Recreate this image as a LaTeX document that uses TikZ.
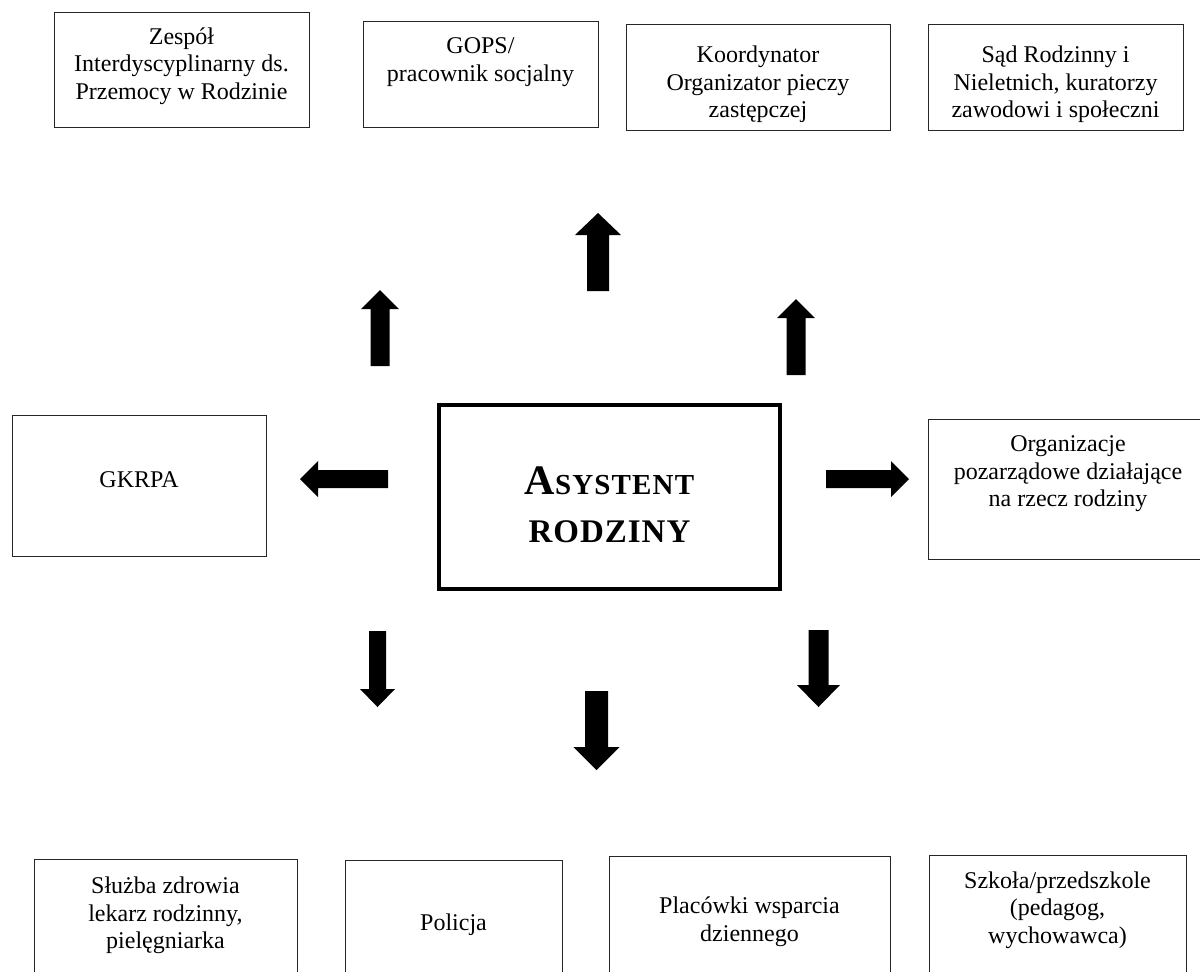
\documentclass[tikz,border=0pt]{standalone}
\usepackage{fontspec}
\setmainfont{Liberation Serif}
\usetikzlibrary{fit}
\newcommand\varrow[6]{% cx, tip y, head base y, tail y, head half width, shaft half width
  \fill[black] (#1,#2) -- (#1+#5,#3) -- (#1+#6,#3) -- (#1+#6,#4) -- (#1-#6,#4) -- (#1-#6,#3) -- (#1-#5,#3) -- cycle;}
\newcommand\harrow[6]{% cy, tip x, head base x, tail x, head half height, shaft half height
  \fill[black] (#2,#1) -- (#3,#1+#5) -- (#3,#1+#6) -- (#4,#1+#6) -- (#4,#1-#6) -- (#3,#1-#6) -- (#3,#1-#5) -- cycle;}
\begin{document}
\begin{tikzpicture}[x=0.5pt,y=-0.5pt,
  box/.style={draw=black!85, line width=0.5pt, inner sep=0pt},
  mainbox/.style={draw=black, line width=1.75pt, inner sep=0pt},
  lbl/.style={align=center, font=\fontsize{12}{13.8}\selectfont, inner sep=0pt}]
\useasboundingbox (0,0) rectangle (1200,971);
\clip (0,0) rectangle (1200,971);
% top row
\node[box, fit={(54,12) (309,127)}] (b1) {};
\node[lbl] (t1) at (181.5,66) {Zespół\\Interdyscyplinarny ds.\\Przemocy w Rodzinie};
\node[box, fit={(363,21) (598,127)}] (b2) {};
\node[lbl] (t2) at (480.5,62) {GOPS/\\pracownik socjalny};
\node[box, fit={(626,24) (890,130)}] (b3) {};
\node[lbl] (t3) at (758,84.5) {Koordynator\\Organizator pieczy\\zastępczej};
\node[box, fit={(928,24) (1183,130)}] (b4) {};
\node[lbl] (t4) at (1055.5,84.5) {Sąd Rodzinny i\\Nieletnich, kuratorzy\\zawodowi i społeczni};
% middle row
\node[box, fit={(12,415) (266,556)}] (gk) {};
\node[lbl] (tgk) at (139,480) {GKRPA};
\node[mainbox, fit={(439,405) (780,589)}] (c) {};
\node[inner sep=0pt, anchor=base, font=\bfseries] (c1) at (609.5,494)
  {{\fontsize{21}{21}\selectfont A}{\fontsize{14.5}{14.5}\selectfont\addfontfeatures{LetterSpace=4}SYSTENT}};
\node[inner sep=0pt, anchor=base, font=\bfseries] (c2) at (609.5,542)
  {{\fontsize{16.5}{16.5}\selectfont\addfontfeatures{LetterSpace=3}RODZINY}};
\node[box, fit={(928,419) (1208,559)}] (org) {};
\node[lbl] (torg) at (1068,474) {Organizacje\\pozarządowe działające\\na rzecz rodziny};
% bottom row
\node[box, fit={(34,859) (297,1000)}] (s1) {};
\node[lbl] (ts1) at (165.5,915.5) {Służba zdrowia\\lekarz rodzinny,\\pielęgniarka};
\node[box, fit={(345,860) (562,1000)}] (s2) {};
\node[lbl] (ts2) at (453.5,925) {Policja};
\node[box, fit={(609,856) (890,1000)}] (s3) {};
\node[lbl] (ts3) at (749.5,922) {Placówki wsparcia\\dziennego};
\node[box, fit={(929,855) (1186,1000)}] (s4) {};
\node[lbl] (ts4) at (1057.5,910) {Szkoła/przedszkole\\(pedagog,\\wychowawca)};
% block arrows
\varrow{380}{290}{309}{366}{19}{9.5}
\varrow{598}{213}{235}{291}{23}{11}
\varrow{796}{299}{318}{375}{19}{9.5}
\harrow{479}{300}{318}{388}{18}{9}
\harrow{479}{909}{891}{826}{18}{9}
\varrow{377.5}{707}{689}{631}{17.5}{8.5}
\varrow{596.5}{770}{747}{691}{23}{11.5}
\varrow{818.5}{707}{685}{630}{21.5}{10}
\end{tikzpicture}
\end{document}
